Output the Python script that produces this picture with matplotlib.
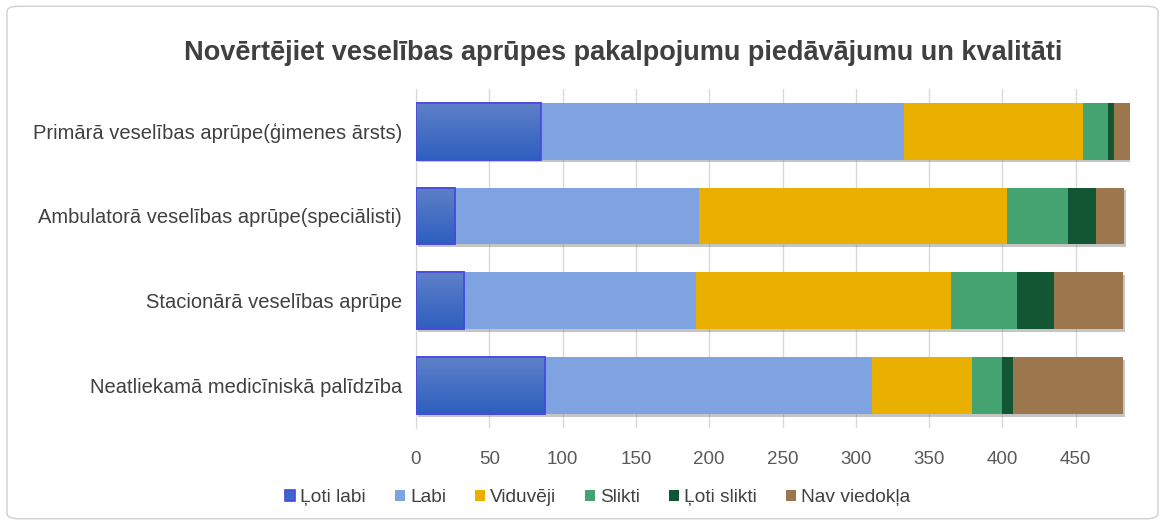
import matplotlib
matplotlib.use("Agg")
import matplotlib.pyplot as plt
import matplotlib.patheffects as pe
from matplotlib.patches import FancyBboxPatch, Patch
import numpy as np

plt.rcParams['font.family'] = ['Liberation Sans', 'DejaVu Sans']

categories = [
    "Primārā veselības aprūpe(ģimenes ārsts)",
    "Ambulatorā veselības aprūpe(speciālisti)",
    "Stacionārā veselības aprūpe",
    "Neatliekamā medicīniskā palīdzība",
]
series_names = ["Ļoti labi", "Labi", "Viduvēji", "Slikti", "Ļoti slikti", "Nav viedokļa"]
loti_labi = [85, 27, 33, 88]
labi = [248, 166, 158, 223]
viduveji = [122, 210, 174, 68]
slikti = [17, 42, 45, 21]
loti_slikti = [4, 19, 25, 7]
nav_viedokla = [11, 19, 47, 75]
xticks = [0, 50, 100, 150, 200, 250, 300, 350, 400, 450]

series = [loti_labi, labi, viduveji, slikti, loti_slikti, nav_viedokla]
colors = ["#3A68C8", "#7FA3E0", "#EAB000", "#44A370", "#135634", "#9C774E"]

fig = plt.figure(figsize=(11.65, 5.25), dpi=100)
ax = fig.add_axes([0.357, 0.185, 0.613, 0.646])

y = np.arange(len(categories))
left = np.zeros(len(categories))
shadow = [pe.SimplePatchShadow(offset=(1.5, -2), shadow_rgbFace='#808080', alpha=0.45), pe.Normal()]
cmap = matplotlib.colors.LinearSegmentedColormap.from_list("g", ["#5E80C8", "#2E5FBF"])
for i, (vals, c) in enumerate(zip(series, colors)):
    vals = np.array(vals, dtype=float)
    if i == 0:
        bars = ax.barh(y, vals, left=left, height=0.67, color=c, edgecolor="#4848E0",
                       linewidth=1.2, zorder=3)
        for b in bars:
            b.set_path_effects(shadow)
            x0, y0 = b.get_x(), b.get_y()
            w, h = b.get_width(), b.get_height()
            grad = np.linspace(0, 1, 50).reshape(-1, 1)
            im = ax.imshow(grad, cmap=cmap, aspect='auto',
                           extent=[x0, x0 + w, y0 + h, y0], zorder=3.5, interpolation='bicubic')
            im.set_clip_path(b)
        ax.barh(y, vals, left=left, height=0.67, facecolor='none', edgecolor="#4848E0",
                linewidth=1.2, zorder=4)
    else:
        bars = ax.barh(y, vals, left=left, height=0.67, color=c, edgecolor='none', zorder=3)
        for b in bars:
            b.set_path_effects(shadow)
    left = left + vals

ax.set_xlim(0, 487)
ax.set_ylim(len(categories) - 0.5, -0.5)
ax.set_yticks(y)
ax.set_yticklabels(categories, fontsize=14.5, color="#404040")
ax.set_xticks(xticks)
ax.set_xticklabels([str(t) for t in xticks], fontsize=13.5, color="#595959")
ax.tick_params(axis='x', length=0, pad=17)
ax.tick_params(axis='y', length=0, pad=10)
ax.grid(axis='x', color="#D9D9D9", linewidth=1, zorder=0)
ax.set_axisbelow(True)
for s in ['top', 'right', 'bottom']:
    ax.spines[s].set_visible(False)
ax.spines['left'].set_color("#D9D9D9")

fig.text(0.535, 0.9, "Novērtējiet veselības aprūpes pakalpojumu piedāvājumu un kvalitāti",
         ha='center', va='center', fontsize=19.5, fontweight='bold', color="#404040")

handles = [Patch(facecolor=colors[0], edgecolor="#4848E0", linewidth=1.2)] + \
          [Patch(facecolor=c, edgecolor='none') for c in colors[1:]]
leg = fig.legend(handles=handles, labels=series_names, loc='center', bbox_to_anchor=(0.513, 0.052),
                 ncol=6, frameon=False, fontsize=13.8, handlelength=0.55, handleheight=0.55,
                 handletextpad=0.25, columnspacing=1.5, labelcolor="#404040")

border = FancyBboxPatch((0.006, 0.012), 0.988, 0.976, boxstyle="round,pad=0,rounding_size=0.01",
                        transform=fig.transFigure, facecolor='none', edgecolor="#D0D0D0",
                        linewidth=1.0)
fig.patches.append(border)

fig.savefig("out.png", dpi=100, facecolor='white')
